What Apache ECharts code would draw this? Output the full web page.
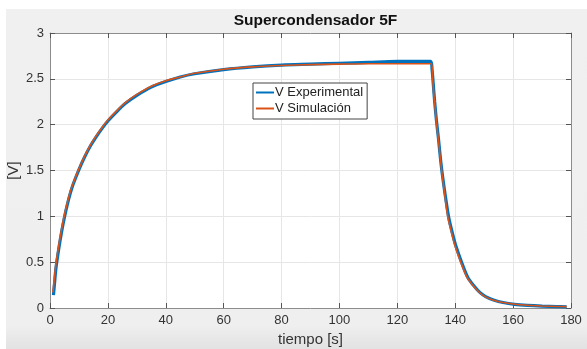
<!DOCTYPE html>
<html>
<head>
<meta charset="utf-8">
<script src="https://cdn.jsdelivr.net/npm/echarts@6/dist/echarts.min.js"></script>
<style>
html,body{margin:0;padding:0;background:#fff;}
#c{width:587px;height:349px;}
</style>
</head>
<body>
<div id="c"></div>
<script>
var titleText = 'Supercondensador 5F';
var xAxisName = 'tiempo [s]';
var yAxisName = '[V]';
var seriesNames = ['V Experimental', 'V Simulación'];
var xTicks = [0, 20, 40, 60, 80, 100, 120, 140, 160, 180];
var yTicks = [0, 0.5, 1, 1.5, 2, 2.5, 3];

var expTime = [1.2, 1.6, 2, 3, 4, 5, 6, 7, 8, 10, 12, 14, 16, 18, 20, 23, 26, 30, 35, 40, 45, 50, 60, 70, 80, 90, 100, 110, 120, 125, 131.5, 132, 132.4, 132.9, 133.5, 134.2, 135, 135.7, 136.6, 137.8, 139, 140.3, 142.3, 144.4, 146.5, 148.5, 150.5, 153.5, 156.5, 160.5, 165, 170, 175, 178.5];
var expV = [0.14, 0.28, 0.42, 0.64, 0.83, 0.99, 1.13, 1.25, 1.35, 1.51, 1.65, 1.77, 1.87, 1.96, 2.04, 2.14, 2.23, 2.32, 2.41, 2.47, 2.52, 2.555, 2.60, 2.63, 2.65, 2.66, 2.67, 2.68, 2.69, 2.69, 2.69, 2.6, 2.45, 2.25, 2.05, 1.85, 1.6, 1.42, 1.22, 0.98, 0.82, 0.67, 0.49, 0.33, 0.24, 0.17, 0.125, 0.085, 0.06, 0.04, 0.028, 0.02, 0.015, 0.013];

var simTime = [1, 1.5, 2, 3, 4, 5, 6, 7, 8, 10, 12, 14, 16, 18, 20, 23, 26, 30, 35, 40, 45, 50, 60, 70, 80, 90, 100, 110, 120, 131.8, 132.2, 132.6, 133, 133.6, 134.3, 135.3, 136.2, 137.4, 138.5, 139.8, 141.9, 144, 146, 148, 150, 153, 156, 160, 165, 170, 175, 178.5];
var simV = [0.17, 0.32, 0.47, 0.68, 0.86, 1.02, 1.15, 1.27, 1.36, 1.52, 1.66, 1.78, 1.88, 1.97, 2.05, 2.15, 2.24, 2.33, 2.42, 2.48, 2.52, 2.56, 2.605, 2.63, 2.645, 2.655, 2.66, 2.665, 2.665, 2.665, 2.5, 2.33, 2.2, 2.0, 1.8, 1.5, 1.28, 1.0, 0.85, 0.69, 0.5, 0.34, 0.25, 0.18, 0.13, 0.088, 0.062, 0.044, 0.03, 0.022, 0.017, 0.015];

function pairs(t, v) { return t.map(function (x, i) { return [x, v[i]]; }); }

var FONT = '"Liberation Sans", Arial, Helvetica, sans-serif';
var axisCol = '#8c8c8c';
var labelCol = '#333333';

var chart = echarts.init(document.getElementById('c'), null, {renderer: 'canvas'});
var gridL = 50, gridT = 33, gridW = 521, gridH = 275;

chart.setOption({
  backgroundColor: '#ffffff',
  animation: false,
  graphic: [
    {type: 'rect', z: -100, shape: {x: 6, y: 9, width: 581, height: 340},
     style: {fill: new echarts.graphic.LinearGradient(0, 0, 0, 1, [
       {offset: 0, color: '#f0f0f0'}, {offset: 0.93, color: '#efefef'}, {offset: 1, color: '#e2e2e2'}])}}
  ],
  title: {
    text: titleText,
    left: gridL + gridW / 2,
    top: 8,
    textAlign: 'center',
    textStyle: {fontFamily: FONT, fontSize: 15.5, fontWeight: 'bold', color: '#111'}
  },
  legend: {
    data: seriesNames,
    orient: 'vertical',
    left: 253,
    top: 83,
    width: 115,
    backgroundColor: '#ffffff',
    borderColor: '#444',
    borderWidth: 1,
    borderRadius: 0,
    padding: [3, 4, 4, 2],
    itemGap: 3,
    itemWidth: 18,
    itemHeight: 14,
    itemStyle: {color: 'rgba(0,0,0,0)', borderWidth: 0, opacity: 0},
    textStyle: {fontFamily: FONT, fontSize: 13, color: '#222', padding: [0, 0, 0, -4]},
    selectedMode: false
  },
  grid: {left: gridL, top: gridT, width: gridW, height: gridH, show: true, backgroundColor: '#ffffff', borderWidth: 0, containLabel: false, outerBoundsMode: 'none'},
  xAxis: [{
    type: 'value', min: 0, max: 180, interval: 20,
    name: xAxisName, nameLocation: 'middle', nameGap: 24, nameMoveOverlap: false,
    nameTextStyle: {fontFamily: FONT, fontSize: 15, color: labelCol},
    axisLine: {show: true, onZero: false, lineStyle: {color: axisCol, width: 1}},
    axisTick: {show: true, inside: true, length: 5, lineStyle: {color: '#555'}},
    axisLabel: {fontFamily: FONT, fontSize: 13, color: labelCol, margin: 6},
    splitLine: {show: true, lineStyle: {color: '#e6e6e6', width: 1}}
  }, {
    type: 'value', min: 0, max: 180, interval: 20, position: 'top',
    axisLine: {show: true, onZero: false, lineStyle: {color: axisCol, width: 1}},
    axisTick: {show: true, inside: true, length: 5, lineStyle: {color: '#555'}},
    axisLabel: {show: false}, splitLine: {show: false}
  }],
  yAxis: [{
    type: 'value', min: 0, max: 3, interval: 0.5,
    name: yAxisName, nameLocation: 'middle', nameGap: 29, nameRotate: 90, nameMoveOverlap: false,
    nameTextStyle: {fontFamily: FONT, fontSize: 15, color: labelCol},
    axisLine: {show: true, onZero: false, lineStyle: {color: axisCol, width: 1}},
    axisTick: {show: true, inside: true, length: 5, lineStyle: {color: '#555'}},
    axisLabel: {fontFamily: FONT, fontSize: 13, color: labelCol, margin: 6},
    splitLine: {show: true, lineStyle: {color: '#e6e6e6', width: 1}}
  }, {
    type: 'value', min: 0, max: 3, interval: 0.5, position: 'right',
    axisLine: {show: true, onZero: false, lineStyle: {color: axisCol, width: 1}},
    axisTick: {show: true, inside: true, length: 5, lineStyle: {color: '#555'}},
    axisLabel: {show: false}, splitLine: {show: false}
  }],
  series: [{
    name: seriesNames[0], type: 'line', data: pairs(expTime, expV),
    showSymbol: false, symbol: 'none', smooth: 0.3,
    lineStyle: {color: '#0072BD', width: 3.2},
    itemStyle: {color: '#0072BD'}, z: 2
  }, {
    name: seriesNames[1], type: 'line', data: pairs(simTime, simV),
    showSymbol: false, symbol: 'none', smooth: 0.3,
    lineStyle: {color: '#D95319', width: 1.6},
    itemStyle: {color: '#D95319'}, z: 3
  }]
});
</script>
</body>
</html>
